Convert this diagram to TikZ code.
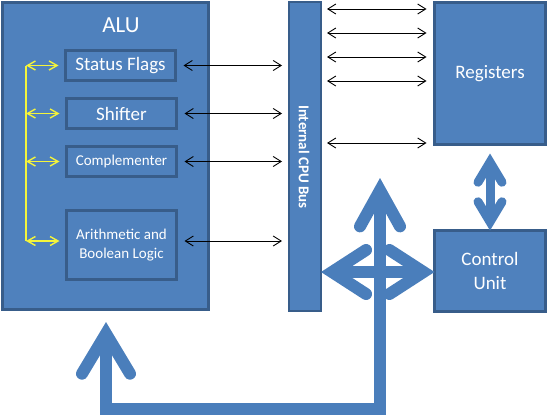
\documentclass[tikz,border=0pt]{standalone}
\usepackage{fontspec}
\setmainfont{Carlito}
\usetikzlibrary{arrows.meta,calc}
\definecolor{bfill}{HTML}{4F81BD}
\definecolor{bline}{HTML}{385D8A}
\definecolor{barrow}{HTML}{4A7EBB}
\definecolor{ylw}{HTML}{F5F53A}
\begin{document}
\begin{tikzpicture}[x=1pt,y=-1pt,
  box/.style={draw=bline, fill=bfill, line width=3pt, inner sep=0pt, outer sep=0pt, text=white, align=center},
  blk/.style={draw=black, line width=0.9pt, {Straight Barb[length=8pt,width=10pt]}-{Straight Barb[length=8pt,width=10pt]}},
  yel/.style={draw=ylw, line width=1.4pt, {Straight Barb[length=8pt,width=9pt]}-{Straight Barb[length=8pt,width=9pt]}},
  bigA/.style={draw=barrow, line width=12pt, line join=miter,
     {Straight Barb[length=34pt,width=44pt,line cap=round,line join=miter]}-{Straight Barb[length=34pt,width=44pt,line cap=round,line join=miter]}},
  bigB/.style={draw=barrow, line width=12pt, line join=miter,
     {Straight Barb[length=36pt,width=40pt,line cap=round,line join=miter]}-{Straight Barb[length=40pt,width=48pt,line cap=round,line join=miter]}},
  bigC/.style={draw=barrow, line width=9pt,
     {Straight Barb[length=20pt,width=24pt,line cap=round,line join=miter]}-{Straight Barb[length=20pt,width=24pt,line cap=round,line join=miter]}},
]
\useasboundingbox (0,0) rectangle (547,415);
% ALU
\node[box, minimum width=206pt, minimum height=307pt] (alu) at (105.5,156) {};
\node[text=white, font=\fontsize{23}{26}\selectfont] (alut) at (121,25) {ALU};
\node[box, minimum width=110pt, minimum height=30pt, font=\fontsize{19}{22}\selectfont] (sf) at (120.5,65.5) {Status Flags};
\node[box, minimum width=110pt, minimum height=30pt, font=\fontsize{19}{22}\selectfont] (sh) at (121.5,113.5) {Shifter};
\node[box, minimum width=110pt, minimum height=30pt, font=\fontsize{15}{18}\selectfont] (co) at (121.5,161.5) {Complementer};
\node[box, minimum width=110pt, minimum height=69pt, font=\fontsize{15}{19}\selectfont] (ar) at (121.5,245) {Arithmetic and\\Boolean Logic};
% bus
\node[box, line width=2pt, minimum width=32pt, minimum height=309pt] (bus) at (305,156.5) {};
\node[text=white, rotate=-90, font=\bfseries\fontsize{15}{18}\selectfont] (bust) at (304,157) {Internal CPU Bus};
% registers and control unit
\node[box, minimum width=111pt, minimum height=142pt, font=\fontsize{19}{22}\selectfont] (reg) at (490,73.5) {Registers};
\node[box, minimum width=111pt, minimum height=81pt, font=\fontsize{19}{24}\selectfont] (cu) at (490,271) {Control\\Unit};
% black arrows ALU - bus
\coordinate (ya) at (0,241);
\foreach \n in {sf,sh,co}{
  \draw[blk, shorten <=8pt, shorten >=7pt] (\n.east) -- (\n.east -| bus.west);
}
\draw[blk, shorten <=8pt, shorten >=7pt] (ar.east |- ya) -- (bus.west |- ya);
% black arrows bus - registers
\foreach \i/\y in {1/9,2/33,3/57,4/81,5/143}{
  \coordinate (r\i) at (0,\y);
  \draw[blk, shorten <=6pt, shorten >=8pt] (bus.east |- r\i) -- (reg.west |- r\i);
}
% yellow arrows
\coordinate (yl) at (26,0);
\draw[draw=ylw, line width=1.4pt] (yl |- sf.west) -- (yl |- ya);
\foreach \n in {sf,sh,co}{
  \draw[yel, shorten >=7pt] (yl |- \n.west) -- (\n.west);
}
\draw[yel, shorten >=7pt] (yl |- ya) -- (ar.west |- ya);
% big arrows
\coordinate (ctop) at (380,178);
\coordinate (cbot) at (380,409);
\coordinate (lbot) at (106,409);
\coordinate (ltip) at (106,322);
\coordinate (hy) at (0,272);
\draw[bigB] (ctop) -- (cbot) -- (lbot) -- (ltip);
\draw[bigA] (bus.east |- hy) -- (cu.west |- hy);
\draw[bigC, shorten <=9pt] (reg.south) -- (cu.north);
\end{tikzpicture}
\end{document}
